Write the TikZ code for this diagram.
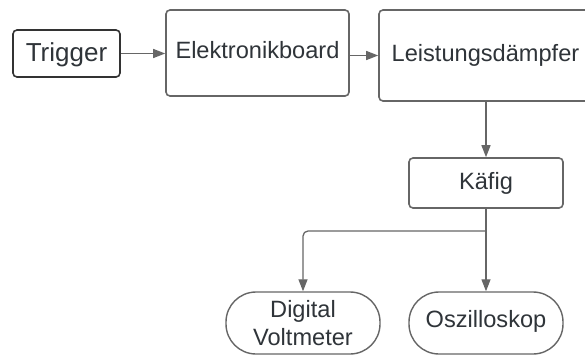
\documentclass[tikz,border=0pt]{standalone}
\usepackage{fontspec}
\setmainfont{Liberation Sans}
\usetikzlibrary{arrows.meta,calc}
\definecolor{txt}{HTML}{2F3439}
\definecolor{edge}{HTML}{666666}
\definecolor{dark}{HTML}{333333}
\begin{document}
\begin{tikzpicture}[x=1pt,y=-1pt,
  box/.style={draw=edge,line width=1.6pt,rounded corners=4pt,fill=white,text=txt,font=\fontsize{23.6}{28}\selectfont,inner sep=0pt,align=center},
  pill/.style={box,line width=1.4pt,rounded corners=30pt},
  conn/.style={draw=edge,line width=1.3pt,-{Triangle[length=12pt,width=9pt]}}]
\useasboundingbox (0,0) rectangle (585,354);
\clip (0,0) rectangle (585,354);
\node[box,draw=dark,font=\fontsize{26}{30}\selectfont,text depth=2pt,minimum width=107pt,minimum height=47pt] (trig) at (66.5,53.5) {Trigger};
\node[box,text depth=6pt,minimum width=183pt,minimum height=86pt] (elek) at (257.5,53) {Elektronikboard};
\node[box,minimum width=213pt,minimum height=91pt] (leist) at (485.5,55.5) {Leistungsdämpfer};
\node[box,minimum width=154pt,minimum height=50pt] (kafig) at (486,183) {Käfig};
\node[pill,minimum width=154pt,minimum height=62pt] (dv) at (303,323) {Digital\\Voltmeter};
\node[pill,text depth=9pt,minimum width=154pt,minimum height=62pt] (osz) at (486,323) {Oszilloskop};
\coordinate (split) at (486,231);
\draw[conn] (trig.east) -- (trig.east -| elek.west);
\draw[conn] (elek.east |- leist.west) -- (leist.west);
\draw[conn] (kafig.north |- leist.south) -- (kafig.north);
\draw[conn] (kafig.south) -- (osz.north);
\draw[conn,rounded corners=5pt] (split) -| (dv.north);
\end{tikzpicture}
\end{document}
